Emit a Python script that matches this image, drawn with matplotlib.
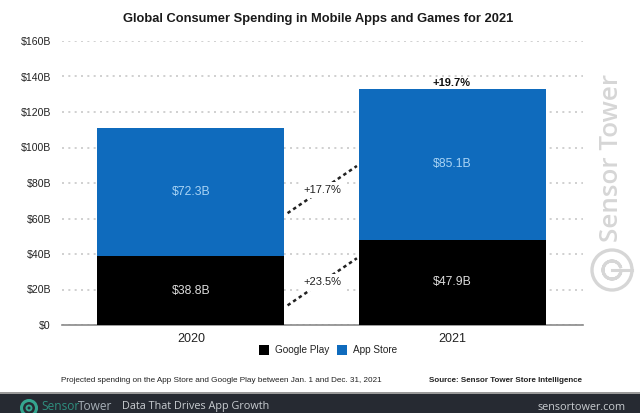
import matplotlib
matplotlib.use("Agg")
import matplotlib.pyplot as plt
from matplotlib.patches import Rectangle, Circle, Wedge

years = ["2020", "2021"]
google_play = [38.8, 47.9]
app_store = [72.3, 85.1]
google_labels = ["$38.8B", "$47.9B"]
app_labels = ["$72.3B", "$85.1B"]
yticks = [0, 20, 40, 60, 80, 100, 120, 140, 160]
ytick_labels = ["$0", "$20B", "$40B", "$60B", "$80B", "$100B", "$120B", "$140B", "$160B"]
growth_gp = "+23.5%"
growth_as = "+17.7%"
growth_total = "+19.7%"
title = "Global Consumer Spending in Mobile Apps and Games for 2021"

W, H = 640, 413
plt.rcParams["font.family"] = ["Liberation Sans", "DejaVu Sans"]
fig = plt.figure(figsize=(W / 100, H / 100), dpi=100, facecolor="white")
ax = fig.add_axes([62 / W, 1 - 325 / H, (583 - 62) / W, (325 - 41) / H])
ax.set_xlim(-0.493, 1.499)
ax.set_ylim(0, 160)
ax.set_facecolor("none")

BLUE = "#0f6bbd"
bw = 0.715
x = [0, 1]
ax.bar(x, google_play, bw, color="black", label="Google Play", zorder=3)
ax.bar(x, app_store, bw, bottom=google_play, color=BLUE, label="App Store", zorder=3)

ax.set_yticks(yticks, ytick_labels)
ax.set_xticks(x, years)
ax.tick_params(axis="both", length=0, colors="#222222")
ax.tick_params(axis="y", pad=8, labelsize=7.6)
ax.tick_params(axis="x", pad=6, labelsize=9)
ax.grid(axis="y", color="#c8c8c8", linestyle=(0, (1.2, 2.6)), linewidth=1.2, zorder=0)
ax.set_axisbelow(True)
for s in ["top", "left", "right"]:
    ax.spines[s].set_visible(False)
ax.spines["bottom"].set_color("#8a8a8a")
ax.spines["bottom"].set_linewidth(1.2)

for i in x:
    ax.text(i, google_play[i] / 2, google_labels[i], ha="center", va="center",
            color="#dddddd", fontsize=8.8, zorder=4)
    ax.text(i, google_play[i] + app_store[i] / 2, app_labels[i], ha="center", va="center",
            color="#a9d4f5", fontsize=8.8, zorder=4)

x0, x1 = bw / 2 + 0.012, 1 - bw / 2 - 0.008
y_gp0, y_gp1 = google_play[0] * 0.285, google_play[1] * 0.785
y_as0, y_as1 = google_play[0] + app_store[0] * 0.335, google_play[1] + app_store[1] * 0.49
dash = dict(color="#222222", linestyle=(0, (1.4, 1.3)), linewidth=1.8, zorder=2)
ax.plot([x0, x1], [y_gp0, y_gp1], **dash)
ax.plot([x0, x1], [y_as0, y_as1], **dash)
box = dict(facecolor="white", edgecolor="none", pad=2.2)
xm = (x0 + x1) / 2
ax.text(xm, 24, growth_gp, ha="center", va="center", fontsize=8, color="#222222", bbox=box, zorder=3)
ax.text(xm, 76, growth_as, ha="center", va="center", fontsize=8, color="#222222", bbox=box, zorder=3)
ax.text(1 - 0.002, google_play[1] + app_store[1] + 0.4, growth_total, ha="center", va="bottom",
        fontsize=8, color="#111111", fontweight="bold", zorder=4)

fig.text(318 / W, 1 - 19 / H, title, ha="center", va="center", fontsize=9.3,
         fontweight="bold", color="#1a1a1a")

handles, labels = ax.get_legend_handles_labels()
fig.legend(handles, labels, loc="center", bbox_to_anchor=(328 / W, 1 - 350 / H), ncol=2, frameon=False,
           fontsize=7.2, handlelength=1.0, handleheight=1.1, handletextpad=0.6, columnspacing=0.8,
           labelcolor="#222222")

fig.text(61 / W, 1 - 381 / H, "Projected spending on the App Store and Google Play between Jan. 1 and Dec. 31, 2021",
         ha="left", va="center", fontsize=5.9, color="#222222")
fig.text(582 / W, 1 - 381 / H, "Source: Sensor Tower Store Intelligence", ha="right", va="center",
         fontsize=5.8, fontweight="bold", color="#222222")

# Footer band
fig.add_artist(Rectangle((0, 0), 1, 19 / H, transform=fig.transFigure, facecolor="#262a32", edgecolor="none"))
fig.add_artist(Rectangle((0, 19 / H), 1, 2 / H, transform=fig.transFigure, facecolor="#9a9a9a", edgecolor="none"))
overlay = fig.add_axes([0, 0, 1, 1], facecolor="none", zorder=5)
overlay.set_xlim(0, W)
overlay.set_ylim(H, 0)
overlay.axis("off")
overlay.add_patch(Circle((29, 408), 7.5, facecolor="none", edgecolor="#35a58f", linewidth=2.2))
overlay.add_patch(Circle((29, 408), 2.5, facecolor="none", edgecolor="#35a58f", linewidth=1.4))
overlay.text(41, 407, "Sensor", color="#2f8f7f", fontsize=8.6, family="Open Sans", va="center", ha="left")
overlay.text(78, 407, "Tower", color="#a8b0b8", fontsize=8.6, family="Open Sans", va="center", ha="left")
overlay.text(122, 407, "Data That Drives App Growth", color="#c8ccd0", fontsize=7.8, family="Open Sans",
             va="center", ha="left")
overlay.text(626, 407, "sensortower.com", color="#c8ccd0", fontsize=7.8, family="Open Sans",
             va="center", ha="right")

# Watermark
overlay.text(612, 158, "Sensor Tower", rotation=90, color="#d6d6d6", fontsize=18.7, va="center", ha="center",
             family="Open Sans", fontweight="semibold")
overlay.add_patch(Circle((612, 270), 20, facecolor="none", edgecolor="#d6d6d6", linewidth=2.4))
overlay.add_patch(Wedge((612, 270), 9, 20, 340, width=0.01, facecolor="none", edgecolor="#d6d6d6", linewidth=2.2))
overlay.plot([612, 632], [270, 270], color="#d6d6d6", linewidth=2.2)

fig.savefig("out.png", dpi=100, facecolor="white")
